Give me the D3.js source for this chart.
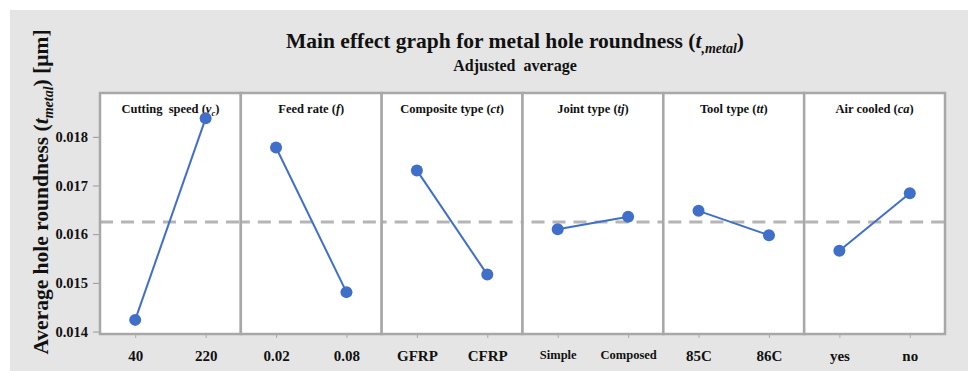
<!DOCTYPE html>
<html>
<head>
<meta charset="utf-8">
<script src="https://cdn.jsdelivr.net/npm/d3@7"></script>
<style>
  body { margin: 0; background: #fff; }
  text { font-family: "Liberation Serif", "Times New Roman", serif; font-weight: bold; fill: #111; }
</style>
</head>
<body>
<script>
// factor names (name part, italic symbol, subscript)
var factorNames = ["Cutting  speed", "Feed rate", "Composite type", "Joint type", "Tool type", "Air cooled"];
var factorSymbols = ["v", "f", "ct", "tj", "tt", "ca"];
var factorSubs = ["c", "", "", "", "", ""];
var levels = [["40", "220"], ["0.02", "0.08"], ["GFRP", "CFRP"], ["Simple", "Composed"], ["85C", "86C"], ["yes", "no"]];
var means = [[0.01424, 0.01838], [0.01778, 0.01481], [0.01731, 0.01517], [0.01610, 0.01636], [0.01648, 0.01598], [0.01566, 0.01684]];
var grandMean = 0.01625;
var yTicks = [0.014, 0.015, 0.016, 0.017, 0.018];

var W = 968, H = 371;
var plotLeft = 100, plotRight = 945, plotTop = 93, plotBottom = 334;
var panelW = (plotRight - plotLeft) / factorNames.length;

var svg = d3.select("body").append("svg")
    .attr("width", W)
    .attr("height", H);

// gray frame background
svg.append("rect")
   .attr("x", 10).attr("y", 10)
   .attr("width", W - 10).attr("height", H - 10)
   .attr("fill", "#e5e5e5");

var yScale = d3.scaleLinear()
    .domain([0.01395, 0.0189])
    .range([plotBottom, plotTop]);

var panelScale = d3.scaleBand()
    .domain(d3.range(factorNames.length))
    .range([plotLeft, plotRight]);

// title
var title = svg.append("text")
   .attr("x", 515).attr("y", 48)
   .attr("text-anchor", "middle")
   .style("font-size", "21.5px");
title.append("tspan").text("Main effect graph for metal hole roundness (");
title.append("tspan").style("font-style", "italic").text("t");
title.append("tspan").style("font-style", "italic").style("font-size", "14px").attr("dy", 5).text(",metal");
title.append("tspan").attr("dy", -5).text(")");

svg.append("text")
   .attr("x", 515).attr("y", 71)
   .attr("text-anchor", "middle")
   .style("font-size", "16px")
   .style("white-space", "pre")
   .text("Adjusted  average");

// y axis title
var yt = svg.append("text")
   .attr("transform", "translate(48," + 192 + ") rotate(-90)")
   .attr("text-anchor", "middle")
   .style("font-size", "21.5px");
yt.append("tspan").text("Average hole roundness (");
yt.append("tspan").style("font-style", "italic").text("t");
yt.append("tspan").style("font-style", "italic").style("font-size", "14px").attr("dy", 5).text("metal");
yt.append("tspan").attr("dy", -5).text(") [μm]");

// y axis
var yAxis = svg.append("g")
   .attr("transform", "translate(" + (plotLeft - 1) + ",0)")
   .call(d3.axisLeft(yScale).tickValues(yTicks).tickSize(6).tickPadding(5).tickFormat(d3.format(".3f")));
yAxis.select(".domain").remove();
yAxis.selectAll("line").attr("stroke", "#999");
yAxis.selectAll("text")
     .style("font-size", "14.5px")
     .style("font-family", "'Liberation Serif', serif")
     .attr("fill", "#111");

// panels
factorNames.forEach(function(name, i) {
    var x0 = panelScale(i);
    var g = svg.append("g").attr("transform", "translate(" + x0 + ",0)");

    g.append("rect")
     .attr("x", 0).attr("y", plotTop)
     .attr("width", panelW).attr("height", plotBottom - plotTop)
     .attr("fill", "#fff");

    var xScale = d3.scalePoint()
        .domain(levels[i])
        .range([0, panelW])
        .padding(0.5);

    // x ticks
    var xAxis = g.append("g")
        .attr("transform", "translate(0," + plotBottom + ")")
        .call(d3.axisBottom(xScale).tickSize(4).tickPadding(12));
    xAxis.select(".domain").remove();
    xAxis.selectAll("line").attr("stroke", "#aaa");
    xAxis.selectAll("text")
         .style("font-size", i == 3 ? "12.5px" : "15px")
         .style("font-family", "'Liberation Serif', serif")
         .attr("fill", "#111");

    // reference line
    g.append("line")
     .attr("x1", 0).attr("x2", panelW)
     .attr("y1", yScale(grandMean)).attr("y2", yScale(grandMean))
     .attr("stroke", "#b5b5b5")
     .attr("stroke-width", 3)
     .attr("stroke-dasharray", "13,8")
     .attr("stroke-dashoffset", i * 4);

    // panel title
    var t = g.append("text")
     .attr("x", panelW / 2).attr("y", 113)
     .attr("text-anchor", "middle")
     .style("font-size", "12.5px")
     .style("white-space", "pre");
    t.append("tspan").text(name + " (");
    t.append("tspan").style("font-style", "italic").text(factorSymbols[i]);
    if (factorSubs[i]) {
        t.append("tspan").style("font-style", "italic").style("font-size", "8.5px").attr("dy", 3).text(factorSubs[i]);
        t.append("tspan").attr("dy", -3).text(")");
    } else {
        t.append("tspan").text(")");
    }

    var pts = levels[i].map(function(l, j) { return [l, means[i][j]]; });

    g.append("path")
     .datum(pts)
     .attr("fill", "none")
     .attr("stroke", "#3f6fc8")
     .attr("stroke-width", 2)
     .attr("d", d3.line()
         .x(function(d) { return xScale(d[0]); })
         .y(function(d) { return yScale(d[1]); }));

    g.selectAll("circle")
     .data(pts)
     .enter()
     .append("circle")
     .attr("cx", function(d) { return xScale(d[0]); })
     .attr("cy", function(d) { return yScale(d[1]); })
     .attr("r", 6)
     .attr("fill", "#3f6fc8");

    // border
    g.append("rect")
     .attr("x", 0).attr("y", plotTop)
     .attr("width", panelW).attr("height", plotBottom - plotTop)
     .attr("fill", "none")
     .attr("stroke", "#a8a8a8")
     .attr("stroke-width", 2.5);
});
</script>
</body>
</html>
